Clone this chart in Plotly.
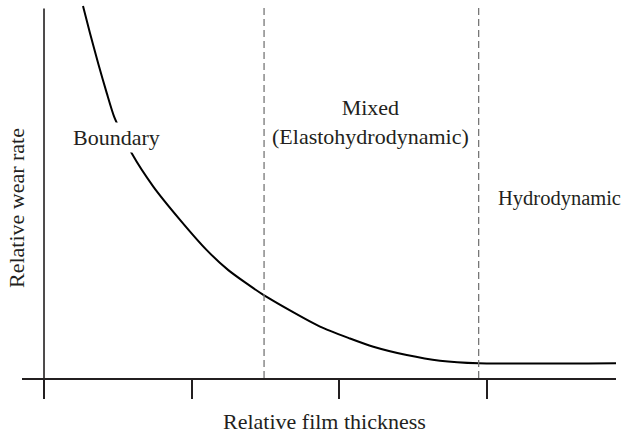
import plotly.graph_objects as go

# Data (relative units)
film_thickness = [0.264, 0.311, 0.368, 0.425, 0.476, 0.594, 0.740, 0.921, 1.102, 1.248,
                  1.485, 1.869, 2.072, 2.230, 2.456, 2.681, 2.943, 3.877]
wear_rate = [1.007, 0.934, 0.850, 0.771, 0.706, 0.608, 0.518, 0.428, 0.346, 0.292,
             0.225, 0.139, 0.107, 0.0847, 0.0622, 0.0468, 0.0398, 0.0398]
tick_positions = [0, 1, 2, 3]
regime_bounds = [1.49, 2.943]
regime_labels = ["Boundary", "Mixed<br>(Elastohydrodynamic)", "Hydrodynamic"]
label_x = [0.491, 2.214, 3.055]
label_y = [0.652, 0.693, 0.487]

FONT = "Liberation Serif, Times New Roman, serif"
INK = "#231f20"
FS = 22

fig = go.Figure()
fig.add_trace(go.Scatter(
    x=film_thickness, y=wear_rate, mode="lines",
    line=dict(color="black", width=2, shape="spline", smoothing=0.6),
    hoverinfo="skip", showlegend=False, cliponaxis=True))

# y axis line
fig.add_shape(type="line", xref="x", yref="y", x0=0, x1=0, y0=0, y1=1,
              line=dict(color=INK, width=1.6))
# regime boundaries
for xb in regime_bounds:
    fig.add_shape(type="line", xref="x", yref="y", x0=xb, x1=xb, y0=0, y1=1.01,
                  line=dict(color="#777777", width=1.3, dash="7px,4px"))

anchors = ["center", "center", "left"]
sizes = [FS, FS, 20.5]
for txt, xx, yy, xa, fs in zip(regime_labels, label_x, label_y, anchors, sizes):
    fig.add_annotation(x=xx, y=yy, xref="x", yref="y", text=txt, showarrow=False,
                       xanchor=xa, yanchor="middle", align="center",
                       font=dict(family=FONT, size=fs, color=INK),
                       bgcolor="white" if txt == "Boundary" else None, borderpad=2)

fig.add_annotation(x=0.510, y=-0.117, xref="paper", yref="paper",
                   text="Relative film thickness", showarrow=False,
                   xanchor="center", yanchor="middle",
                   font=dict(family=FONT, size=FS, color=INK))
fig.add_annotation(x=-0.0101, y=0.452, xref="paper", yref="paper",
                   text="Relative wear rate", showarrow=False, textangle=-90,
                   xanchor="center", yanchor="middle",
                   font=dict(family=FONT, size=FS, color=INK))

fig.update_xaxes(range=[-0.149, 3.873], showgrid=False, zeroline=False,
                 showline=True, linecolor=INK, linewidth=1.6,
                 tickmode="array", tickvals=tick_positions, ticktext=["", "", "", ""],
                 ticks="outside", ticklen=19, tickwidth=1.6, tickcolor=INK)
fig.update_yaxes(range=[0, 1.0176], showgrid=False, zeroline=False,
                 showline=False, showticklabels=False, ticks="")

fig.update_layout(width=626, height=434, margin=dict(l=22, r=10, t=2, b=56),
                  plot_bgcolor="white", paper_bgcolor="white", showlegend=False)

fig.write_html("out.html", config={"displayModeBar": False},
               post_script="document.body.style.margin='0px';document.body.style.overflow='hidden';")
